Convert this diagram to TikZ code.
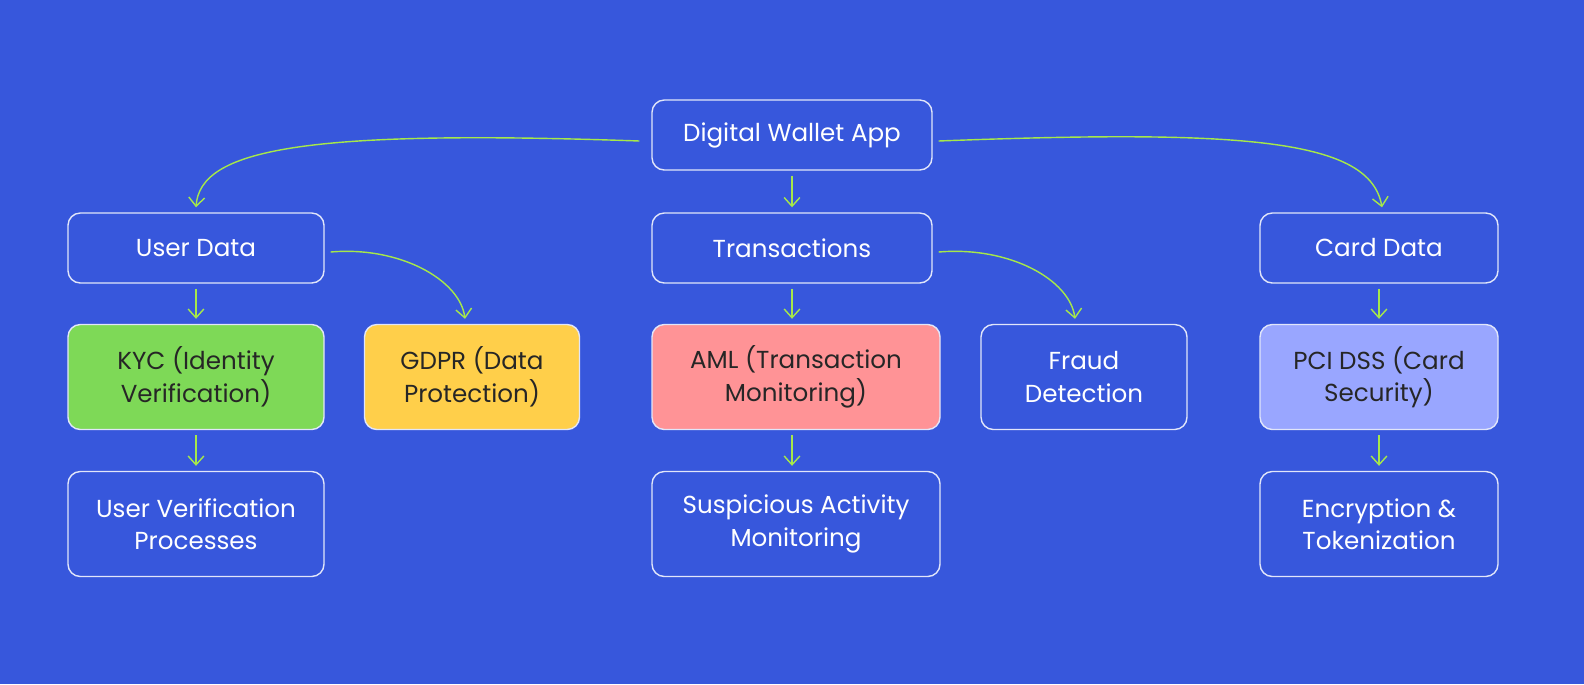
\documentclass[tikz,border=0pt]{standalone}
\usepackage{fontspec}
\setmainfont{Poppins}
\usetikzlibrary{arrows.meta}
\definecolor{bg}{HTML}{3757DC}
\definecolor{ln}{HTML}{A6E84A}
\definecolor{cg}{HTML}{7ED957}
\definecolor{cy}{HTML}{FFCF4A}
\definecolor{cp}{HTML}{FF9396}
\definecolor{cl}{HTML}{99A6FF}
\begin{document}
\begin{tikzpicture}[x=0.02cm,y=-0.02cm,
  box/.style={draw=white!85!bg,line width=0.8pt,rounded corners=7pt,align=center,font=\fontsize{14}{18.5}\selectfont,text=white,inner sep=0pt},
  dark/.style={text=black!85},
  arr/.style={draw=ln,line width=0.8pt,-{Straight Barb[length=5pt,width=9pt]}}]
\fill[bg] (0,0) rectangle (1584,684);
\useasboundingbox (0,0) rectangle (1584,684);
\node[box,minimum width=280*0.02cm,minimum height=70*0.02cm] (dwa) at (792,135) {Digital Wallet App};
\node[box,minimum width=256*0.02cm,minimum height=70*0.02cm] (ud) at (196,248) {User Data};
\node[box,minimum width=280*0.02cm,minimum height=70*0.02cm] (tr) at (792,248) {Transactions};
\node[box,minimum width=238*0.02cm,minimum height=70*0.02cm] (cd) at (1379,248) {Card Data};
\node[box,dark,fill=cg,minimum width=256*0.02cm,minimum height=105*0.02cm] (kyc) at (196,377) {KYC (Identity\\Verification)};
\node[box,dark,fill=cy,minimum width=215*0.02cm,minimum height=105*0.02cm] (gdpr) at (472,377) {GDPR (Data\\Protection)};
\node[box,dark,fill=cp,minimum width=288*0.02cm,minimum height=105*0.02cm] (aml) at (796,377) {AML (Transaction\\Monitoring)};
\node[box,minimum width=206*0.02cm,minimum height=105*0.02cm] (fd) at (1084,377) {Fraud\\Detection};
\node[box,dark,fill=cl,minimum width=238*0.02cm,minimum height=105*0.02cm] (pci) at (1379,377) {PCI DSS (Card\\Security)};
\node[box,minimum width=256*0.02cm,minimum height=105*0.02cm] (uv) at (196,524) {User Verification\\Processes};
\node[box,minimum width=288*0.02cm,minimum height=105*0.02cm] (sa) at (796,524) {Suspicious Activity\\Monitoring};
\node[box,minimum width=238*0.02cm,minimum height=105*0.02cm] (et) at (1379,524) {Encryption \&\\Tokenization};
\draw[arr] ([xshift=-12*0.02cm,yshift=-6*0.02cm]dwa.west) .. controls (300,129) and (200,150) .. ([yshift=5*0.02cm]ud.north);
\draw[arr] ([xshift=6*0.02cm,yshift=-6*0.02cm]dwa.east) .. controls (1250,129) and (1370,140) .. ([xshift=3*0.02cm,yshift=5*0.02cm]cd.north);
\draw[arr] ([yshift=-5*0.02cm]dwa.south) -- ([yshift=5*0.02cm]tr.north);
\draw[arr] ([yshift=-5*0.02cm]ud.south) -- ([yshift=5*0.02cm]kyc.north);
\draw[arr] ([yshift=-5*0.02cm]kyc.south) -- ([yshift=5*0.02cm]uv.north);
\coordinate (amltop) at (tr.south|-aml.north);
\draw[arr] ([yshift=-5*0.02cm]tr.south) -- ([yshift=5*0.02cm]amltop);
\coordinate (sabot) at (tr.south|-aml.south);
\coordinate (satop) at (tr.south|-sa.north);
\draw[arr] ([yshift=-5*0.02cm]sabot) -- ([yshift=5*0.02cm]satop);
\draw[arr] ([yshift=-5*0.02cm]cd.south) -- ([yshift=5*0.02cm]pci.north);
\draw[arr] ([yshift=-5*0.02cm]pci.south) -- ([yshift=5*0.02cm]et.north);
\draw[arr] ([xshift=6*0.02cm,yshift=-4*0.02cm]ud.east) .. controls (400,246) and (460,280) .. ([xshift=-7*0.02cm,yshift=5*0.02cm]gdpr.north);
\draw[arr] ([xshift=6*0.02cm,yshift=-4*0.02cm]tr.east) .. controls (1010,246) and (1070,280) .. ([xshift=-9*0.02cm,yshift=5*0.02cm]fd.north);
\end{tikzpicture}
\end{document}
